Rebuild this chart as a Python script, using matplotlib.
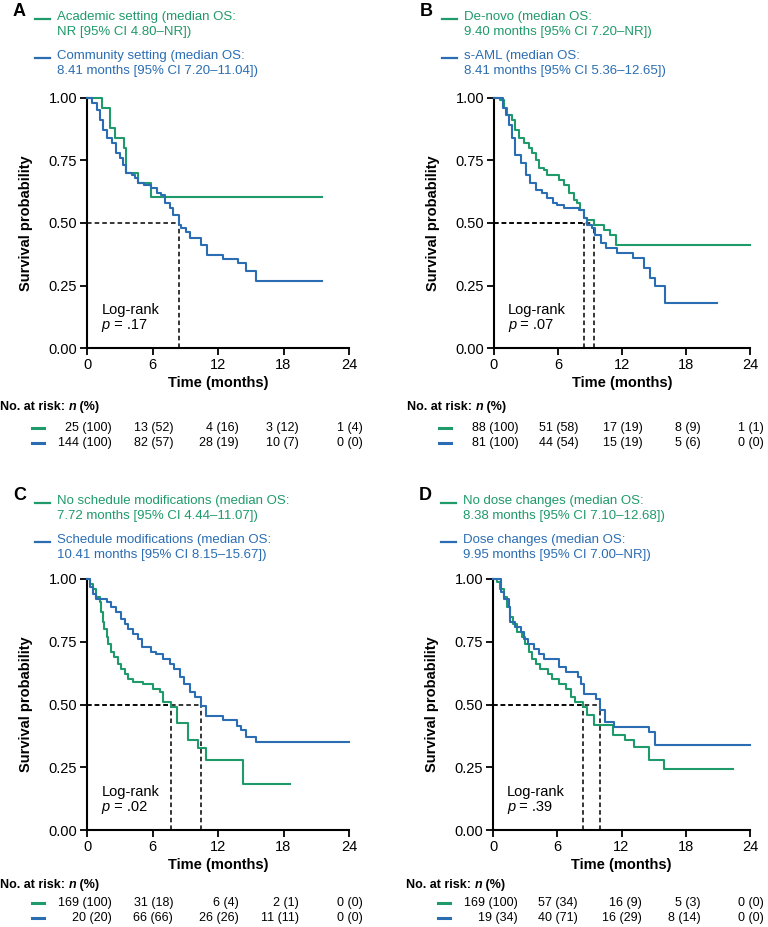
import matplotlib
matplotlib.use("Agg")
import matplotlib.pyplot as plt
from matplotlib.lines import Line2D

plt.rcParams['font.family'] = ['Liberation Sans', 'DejaVu Sans']

GREEN = '#1f9a6a'
BLUE = '#2a6db3'

# ---------------- data ----------------
# Panel A: treatment setting
a_green_t = [0, 1.35, 2.1, 2.6, 3.4, 3.6, 4.7, 5.9, 21.5]
a_green_s = [1.0, 0.96, 0.88, 0.84, 0.80, 0.70, 0.66, 0.605, 0.605]
a_blue_t = [0, 0.45, 0.9, 1.2, 1.5, 1.8, 2.3, 2.7, 3.0, 3.3, 3.6, 4.1, 4.4, 4.7, 5.2, 5.9,
            6.4, 6.8, 7.1, 7.6, 7.9, 8.41, 8.6, 9.1, 9.4, 10.4, 11.0, 12.5, 13.8, 14.6, 15.5, 21.5]
a_blue_s = [1.0, 0.98, 0.95, 0.91, 0.87, 0.84, 0.82, 0.78, 0.76, 0.73, 0.70, 0.69, 0.68, 0.66, 0.65, 0.64,
            0.62, 0.61, 0.58, 0.56, 0.53, 0.49, 0.48, 0.465, 0.44, 0.41, 0.37, 0.355, 0.34, 0.31, 0.27, 0.27]
a_medians = [8.41]
a_labels = ["Academic setting (median OS:\nNR [95% CI 4.80\u2013NR])",
            "Community setting (median OS:\n8.41 months [95% CI 7.20\u201311.04])"]
a_pval = ".17"
a_risk_green = ["25 (100)", "13 (52)", "4 (16)", "3 (12)", "1 (4)"]
a_risk_blue = ["144 (100)", "82 (57)", "28 (19)", "10 (7)", "0 (0)"]

# Panel B: de-novo vs s-AML
b_green_t = [0, 0.6, 0.9, 1.25, 1.7, 2.0, 2.3, 2.8, 3.3, 3.6, 3.9, 4.25, 4.7, 5.0, 6.1, 6.6,
             7.0, 7.5, 7.8, 8.1, 8.4, 8.75, 9.4, 10.3, 10.9, 11.4, 24]
b_green_s = [1.0, 0.99, 0.96, 0.93, 0.91, 0.87, 0.84, 0.82, 0.80, 0.78, 0.75, 0.72, 0.71, 0.69, 0.67, 0.65,
             0.62, 0.59, 0.58, 0.55, 0.52, 0.51, 0.49, 0.47, 0.45, 0.41, 0.41]
b_blue_t = [0, 0.8, 1.1, 1.4, 1.7, 2.0, 2.5, 3.0, 3.4, 3.9, 4.5, 5.0, 5.5, 5.9, 6.6, 8.0, 8.41,
            8.75, 9.2, 9.5, 10.0, 10.5, 11.5, 13.0, 14.1, 14.6, 15.1, 16.0, 20.9]
b_blue_s = [1.0, 0.96, 0.93, 0.89, 0.84, 0.77, 0.74, 0.69, 0.66, 0.63, 0.62, 0.60, 0.58, 0.57, 0.56, 0.55, 0.52,
            0.49, 0.48, 0.45, 0.42, 0.40, 0.38, 0.36, 0.32, 0.28, 0.25, 0.18, 0.18]
b_medians = [8.41, 9.40]
b_labels = ["De-novo (median OS:\n9.40 months [95% CI 7.20\u2013NR])",
            "s-AML (median OS:\n8.41 months [95% CI 5.36\u201312.65])"]
b_pval = ".07"
b_risk_green = ["88 (100)", "51 (58)", "17 (19)", "8 (9)", "1 (1)"]
b_risk_blue = ["81 (100)", "44 (54)", "15 (19)", "5 (6)", "0 (0)"]

# Panel C: schedule modifications
c_green_t = [0, 0.25, 0.55, 0.85, 1.15, 1.3, 1.5, 1.6, 1.8, 1.9, 2.2, 2.5, 2.8, 3.1, 3.45, 3.8,
             4.2, 5.1, 6.0, 6.7, 7.0, 7.72, 8.2, 9.25, 10.2, 10.9, 14.3, 18.6]
c_green_s = [1.0, 0.98, 0.96, 0.93, 0.91, 0.87, 0.83, 0.80, 0.77, 0.74, 0.71, 0.69, 0.66, 0.64, 0.62, 0.60,
             0.59, 0.58, 0.56, 0.55, 0.51, 0.49, 0.425, 0.36, 0.325, 0.28, 0.185, 0.185]
c_blue_t = [0, 0.25, 0.55, 0.85, 1.8, 2.2, 2.7, 3.1, 3.45, 3.8, 4.2, 4.7, 5.0, 5.9, 6.35, 7.0,
            7.6, 8.0, 8.5, 8.9, 9.4, 9.9, 10.41, 10.9, 12.5, 13.7, 14.1, 14.6, 15.5, 24]
c_blue_s = [1.0, 0.97, 0.94, 0.92, 0.91, 0.89, 0.87, 0.84, 0.82, 0.80, 0.78, 0.76, 0.73, 0.71, 0.70, 0.68,
            0.66, 0.64, 0.61, 0.58, 0.55, 0.53, 0.495, 0.455, 0.44, 0.415, 0.40, 0.37, 0.35, 0.35]
c_medians = [7.72, 10.41]
c_labels = ["No schedule modifications (median OS:\n7.72 months [95% CI 4.44\u201311.07])",
            "Schedule modifications (median OS:\n10.41 months [95% CI 8.15\u201315.67])"]
c_pval = ".02"
c_risk_green = ["169 (100)", "31 (18)", "6 (4)", "2 (1)", "0 (0)"]
c_risk_blue = ["20 (20)", "66 (66)", "26 (26)", "11 (11)", "0 (0)"]

# Panel D: dose changes
d_green_t = [0, 0.4, 0.7, 1.0, 1.3, 1.6, 1.9, 2.25, 2.7, 3.0, 3.35, 3.65, 4.0, 4.4, 5.1, 5.5,
             6.2, 6.8, 7.25, 7.7, 8.38, 8.8, 9.4, 11.25, 12.3, 13.2, 14.6, 16.0, 22.4]
d_green_s = [1.0, 0.99, 0.96, 0.93, 0.89, 0.85, 0.82, 0.79, 0.77, 0.74, 0.71, 0.68, 0.66, 0.64, 0.62, 0.60,
             0.58, 0.56, 0.53, 0.51, 0.49, 0.46, 0.42, 0.38, 0.36, 0.33, 0.28, 0.245, 0.245]
d_blue_t = [0, 0.75, 1.0, 1.5, 1.6, 2.1, 2.6, 2.9, 3.3, 3.8, 4.3, 4.75, 6.2, 6.8, 7.9, 8.2,
            8.5, 9.6, 9.95, 10.5, 11.3, 14.6, 15.1, 24]
d_blue_s = [1.0, 0.95, 0.92, 0.89, 0.83, 0.81, 0.79, 0.76, 0.74, 0.72, 0.70, 0.68, 0.65, 0.63, 0.61, 0.58,
            0.54, 0.52, 0.48, 0.43, 0.41, 0.39, 0.34, 0.34]
d_medians = [8.38, 9.95]
d_labels = ["No dose changes (median OS:\n8.38 months [95% CI 7.10\u201312.68])",
            "Dose changes (median OS:\n9.95 months [95% CI 7.00\u2013NR])"]
d_pval = ".39"
d_risk_green = ["169 (100)", "57 (34)", "16 (9)", "5 (3)", "0 (0)"]
d_risk_blue = ["19 (34)", "40 (71)", "16 (29)", "8 (14)", "0 (0)"]

x_ticks = [0, 6, 12, 18, 24]
y_ticks = [0, 0.25, 0.5, 0.75, 1.0]

# right edge of each risk-table column, in months
risk_x = [2.3, 7.9, 13.9, 19.4, 25.3]

W, H = 768, 927
fig = plt.figure(figsize=(W / 100, H / 100), dpi=100)


def fx(px):
    return px / W


def fy(py):
    return 1 - py / H


def draw_panel(letter, left_px, top_px, bottom_px, width_px,
               gt, gs, bt, bs, medians, labels, pval, risk_g, risk_b,
               legend_px, rows_px):
    ax = fig.add_axes([fx(left_px), fy(bottom_px), width_px / W, (bottom_px - top_px) / H])
    ax.step(gt, gs, where='post', color=GREEN, lw=1.5, clip_on=False, zorder=3)
    ax.step(bt, bs, where='post', color=BLUE, lw=1.5, clip_on=False, zorder=3)
    # median lines
    for m in medians:
        ax.plot([0, m], [0.5, 0.5], color='black', lw=1.1, ls=(0, (3, 2)), zorder=2)
        ax.plot([m, m], [0, 0.5], color='black', lw=1.1, ls=(0, (3, 2)), zorder=2)
    ax.set_xlim(0, 24)
    ax.set_ylim(0, 1)
    for side in ['top', 'right']:
        ax.spines[side].set_visible(False)
    for side in ['left', 'bottom']:
        ax.spines[side].set_linewidth(1.5)
    ax.set_xticks(x_ticks)
    ax.set_yticks(y_ticks)
    ax.set_yticklabels(['%.2f' % v for v in y_ticks])
    ax.tick_params(width=1.3, length=5, labelsize=10.5, pad=2)
    ax.set_xlabel('Time (months)', fontsize=10.5, fontweight='bold', labelpad=3)
    ax.set_ylabel('Survival probability', fontsize=10.5, fontweight='bold', labelpad=11)

    # log-rank note
    ax.text(0.055, 0.135, 'Log-rank', transform=ax.transAxes, fontsize=10.5, va='baseline')
    p_t = ax.annotate('p', xy=(0.055, 0.075), xycoords='axes fraction', fontsize=10.5,
                      style='italic', va='baseline')
    ax.annotate(' = ' + pval, xy=(1, 0), xycoords=p_t, fontsize=10.5, va='bottom')

    # panel letter and legend
    lx, ly = legend_px
    fig.text(fx(lx - 22), fy(ly - 7), letter, fontsize=13, fontweight='bold', va='center')
    for i, (lab, col) in enumerate(zip(labels, [GREEN, BLUE])):
        yy = ly + i * 39
        fig.add_artist(Line2D([fx(lx), fx(lx + 15)], [fy(yy), fy(yy)], color=col, lw=1.6))
        fig.text(fx(lx + 22), fy(yy - 8), lab, color=col, fontsize=9.5, va='top',
                 linespacing=1.3)

    # number at risk table
    head_y, r1, r2 = rows_px
    h = fig.text(fx(left_px - 87), fy(head_y), 'No. at risk: ', fontsize=9,
                 fontweight='bold', va='center')
    n_t = ax.annotate('n', xy=(1, 0), xycoords=h, fontsize=9, fontweight='bold',
                      style='italic', va='bottom')
    ax.annotate(' (%)', xy=(1, 0), xycoords=n_t, fontsize=9, fontweight='bold', va='bottom')
    span = bottom_px - top_px
    for row_y, vals, col in [(r1, risk_g, GREEN), (r2, risk_b, BLUE)]:
        fig.add_artist(Line2D([fx(left_px - 55), fx(left_px - 43)], [fy(row_y), fy(row_y)],
                              color=col, lw=2.2))
        for xv, s in zip(risk_x, vals):
            ax.text(xv, (bottom_px - row_y) / span, s, fontsize=9, ha='right', va='center',
                    transform=ax.get_xaxis_transform(), clip_on=False)
    return ax


draw_panel('A', 87, 98, 348, 262, a_green_t, a_green_s, a_blue_t, a_blue_s, a_medians,
           a_labels, a_pval, a_risk_green, a_risk_blue, (35, 19), (407, 428, 443))
draw_panel('B', 494, 98, 348, 256, b_green_t, b_green_s, b_blue_t, b_blue_s, b_medians,
           b_labels, b_pval, b_risk_green, b_risk_blue, (442, 19), (407, 428, 443))
draw_panel('C', 87, 579, 830, 262, c_green_t, c_green_s, c_blue_t, c_blue_s, c_medians,
           c_labels, c_pval, c_risk_green, c_risk_blue, (35, 503), (885, 903, 918))
draw_panel('D', 493, 579, 830, 257, d_green_t, d_green_s, d_blue_t, d_blue_s, d_medians,
           d_labels, d_pval, d_risk_green, d_risk_blue, (441, 503), (885, 903, 918))

fig.savefig('out.png', dpi=100)
